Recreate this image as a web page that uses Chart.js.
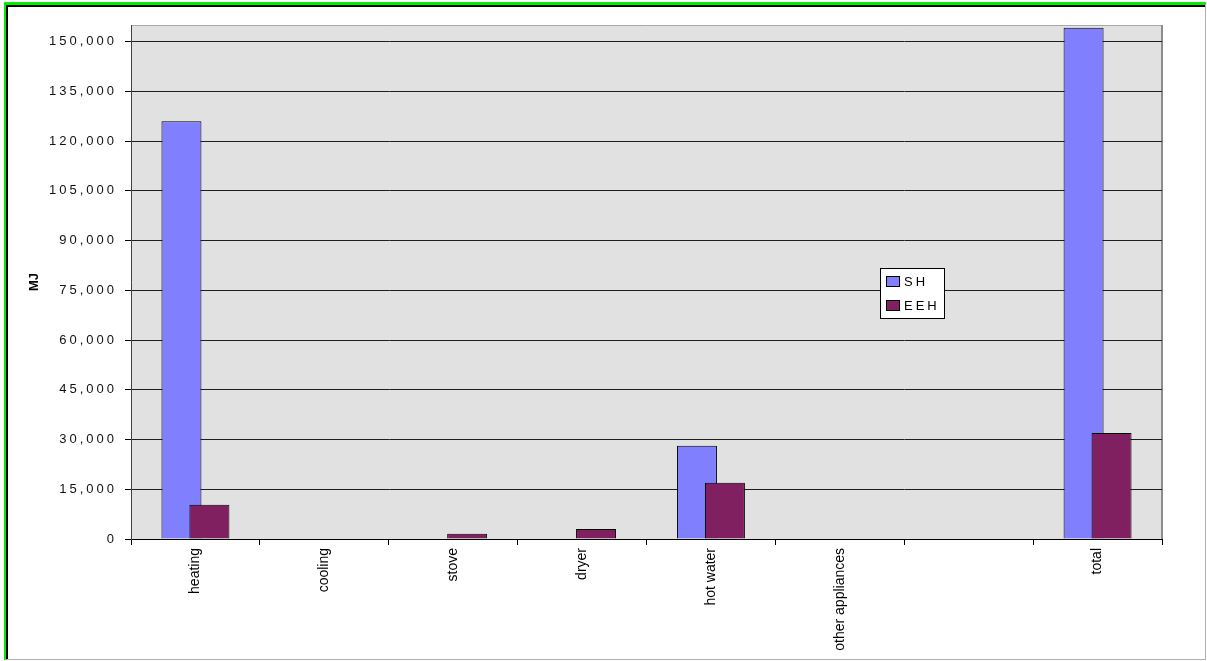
<!DOCTYPE html>
<html>
<head>
<meta charset="utf-8">
<title>SH vs EEH energy use</title>
<script src="https://cdn.jsdelivr.net/npm/chart.js@4/dist/chart.umd.min.js"></script>
<style>
    html, body { margin: 0; padding: 0; background: #fff; }
    #wrap { position: relative; width: 1207px; height: 661px; overflow: hidden; }
    #chart { position: absolute; left: 0; top: 0; }
    /* frame round the chart */
    #frame {
        position: absolute; left: 4px; top: 2px; width: 1199px; height: 654px;
        border-top: 3px solid #00ee00; border-left: 2px solid #00ee00;
        border-right: 1px solid #b0b0b0; border-bottom: 1px solid #b0b0b0;
        pointer-events: none;
    }
    #frame-inner {
        position: absolute; left: 0; top: 0; right: 0; bottom: 0;
        border-top: 2px solid #000; border-left: 2px solid #000;
    }
</style>
</head>
<body>
<div id="wrap">
    <canvas id="chart" width="1207" height="661"></canvas>
    <div id="frame"><div id="frame-inner"></div></div>
</div>
<script>
// Data
const categories = ['heating', 'cooling', 'stove', 'dryer', 'hot water', 'other appliances', '', 'total'];
const shValues = [126000, 0, 0, 0, 28100, 0, 0, 154200];
const eehValues = [10300, 0, 1600, 3000, 17000, 0, 0, 32000];
const yTickValues = [0, 15000, 30000, 45000, 60000, 75000, 90000, 105000, 120000, 135000, 150000];
const Y_MAX = 155000;

const FONT = "'Liberation Sans', Arial, sans-serif";

// Grey plot area with light top/right edges
const plotBackground = {
    id: 'plotBackground',
    beforeDraw(chart) {
        const { ctx, chartArea: a } = chart;
        ctx.save();
        ctx.fillStyle = '#e1e1e1';
        ctx.fillRect(a.left, a.top, a.right - a.left, a.bottom - a.top);
        ctx.strokeStyle = '#a8a8a8';
        ctx.lineWidth = 1;
        ctx.beginPath();
        ctx.moveTo(a.left, a.top + 0.5);
        ctx.lineTo(a.right, a.top + 0.5);
        ctx.stroke();
        ctx.strokeStyle = '#8c8c8c';
        ctx.lineWidth = 2;
        ctx.beginPath();
        ctx.moveTo(a.right, a.top);
        ctx.lineTo(a.right, a.bottom);
        ctx.stroke();
        ctx.restore();
    }
};

// Spaced-out digits on the value axis
const spacedTicks = {
    id: 'spacedTicks',
    afterLayout(chart) {
        const y = chart.scales.y;
        if (!y || y._spaced) return;
        const orig = y.drawLabels;
        y.drawLabels = function (area) {
            this.ctx.save();
            this.ctx.letterSpacing = '3px';
            orig.call(this, area);
            this.ctx.restore();
        };
        y._spaced = true;
    }
};

// Chart.js paints the first dataset last; paint in dataset order instead
// so the EEH bar overlaps the SH bar
const paintInOrder = {
    id: 'paintInOrder',
    beforeDatasetDraw() {
        return false;
    },
    afterDatasetsDraw(chart) {
        chart.data.datasets.forEach((ds, i) => {
            const meta = chart.getDatasetMeta(i);
            if (meta.visible) meta.controller.draw();
        });
    }
};

// Boxed legend sitting inside the plot
const boxLegend = {
    id: 'boxLegend',
    afterDatasetsDraw(chart) {
        const { ctx, chartArea: a } = chart;
        const x = a.left + 749, y = a.top + 243;
        const w = 64, h = 50;
        ctx.save();
        ctx.fillStyle = '#fff';
        ctx.fillRect(x, y, w, h);
        ctx.strokeStyle = '#000';
        ctx.lineWidth = 1;
        ctx.strokeRect(x + 0.5, y + 0.5, w, h);
        ctx.font = '13px ' + FONT;
        ctx.letterSpacing = '3px';
        ctx.textBaseline = 'middle';
        chart.data.datasets.forEach((ds, i) => {
            const cy = y + 14 + i * 24;
            ctx.fillStyle = ds.backgroundColor;
            ctx.fillRect(x + 7, cy - 5, 12, 9);
            ctx.strokeStyle = '#000';
            ctx.strokeRect(x + 6.5, cy - 5.5, 13, 10);
            ctx.fillStyle = '#000';
            ctx.fillText(ds.label, x + 24, cy);
        });
        ctx.restore();
    }
};

new Chart(document.getElementById('chart'), {
    type: 'bar',
    data: {
        labels: categories,
        datasets: [{
            label: 'SH',
            data: shValues,
            backgroundColor: '#8080ff',
            borderColor: '#000',
            borderWidth: 1
        }, {
            label: 'EEH',
            data: eehValues,
            backgroundColor: '#802060',
            borderColor: '#000',
            borderWidth: 1
        }]
    },
    options: {
        responsive: false,
        animation: false,
        layout: { padding: { left: 0, top: 25, right: 45, bottom: 0 } },
        datasets: {
            bar: { categoryPercentage: 0.434, barPercentage: 1.43 }
        },
        plugins: {
            legend: { display: false },
            tooltip: { enabled: false }
        },
        scales: {
            x: {
                afterFit(scale) { scale.height = 122; },
                grid: {
                    offset: true,
                    drawOnChartArea: false,
                    drawTicks: true,
                    tickLength: 6,
                    color: '#000'
                },
                border: { color: '#000', width: 1 },
                ticks: {
                    minRotation: 90,
                    maxRotation: 90,
                    autoSkip: false,
                    padding: 3,
                    color: '#000',
                    font: { family: FONT, size: 14 }
                }
            },
            y: {
                min: 0,
                max: Y_MAX,
                afterFit(scale) { scale.width = 131; },
                afterBuildTicks(axis) {
                    axis.ticks = yTickValues.map(v => ({ value: v }));
                },
                grid: {
                    color: '#1e1e1e',
                    lineWidth: 1,
                    drawTicks: true,
                    tickLength: 6,
                    tickColor: '#000'
                },
                border: { color: '#404040', width: 1 },
                ticks: {
                    padding: 8,
                    color: '#111',
                    font: { family: FONT, size: 13 },
                    callback: v => v.toLocaleString('en-US')
                },
                title: {
                    display: true,
                    text: 'MJ',
                    color: '#000',
                    padding: { top: 27, bottom: 0 },
                    font: { family: FONT, size: 13, weight: 'bold' }
                }
            }
        }
    },
    plugins: [plotBackground, spacedTicks, paintInOrder, boxLegend]
});
</script>
</body>
</html>
